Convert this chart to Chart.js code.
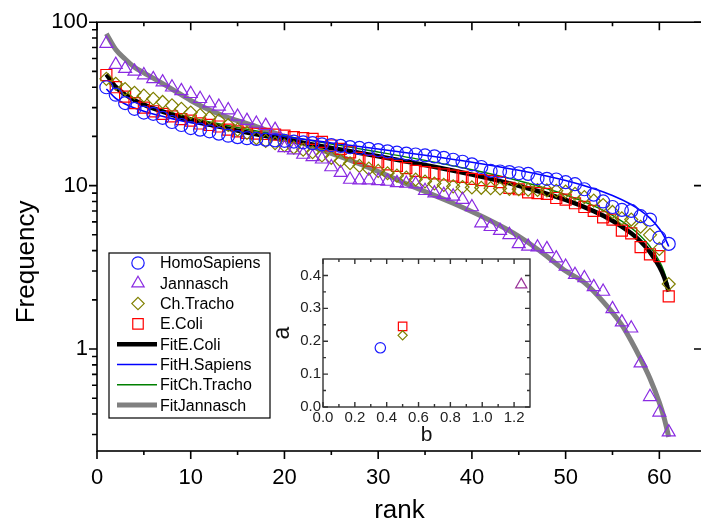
<!DOCTYPE html>
<html><head><meta charset="utf-8">
<script src="https://cdn.jsdelivr.net/npm/chart.js@4.4.0/dist/chart.umd.min.js"></script>
<style>
html,body{margin:0;padding:0;background:#fff;}
#wrap{position:relative;width:701px;height:522px;overflow:hidden;background:#fff;}
#main{position:absolute;left:0;top:0;}
#inset{position:absolute;left:262px;top:248px;}
</style></head><body>
<div id="wrap"><canvas id="main" width="711" height="522"></canvas><canvas id="inset" width="280" height="210"></canvas></div>
<script>
// ---------- data ----------
const ranks = [1,2,3,4,5,6,7,8,9,10,11,12,13,14,15,16,17,18,19,20,21,22,23,24,25,26,27,28,29,30,31,32,33,34,35,36,37,38,39,40,41,42,43,44,45,46,47,48,49,50,51,52,53,54,55,56,57,58,59,60,61];
const homoSapiens = [40,36,32,29.5,28,27.5,26,24.5,23.5,22.5,
  22,21.5,20.8,20.2,19.8,19.5,19.3,19.1,18.9,18.8,
  18.6,18.4,18.2,17.9,17.7,17.5,17.2,17,16.8,16.5,
  16.2,15.9,15.7,15.5,15.3,15.1,14.8,14.4,14,13.5,
  13,12.3,12.2,12.1,11.9,11.8,11.1,11,10.9,10.5,
  10.2,9.5,8.8,8,7.4,7.1,7,6.5,6.2,4.8,
  4.4];
const jannasch = [74,55,52,50,47.5,45,43,40,38,36.5,
  34,32,30.5,29,26.5,25,24,23.3,22,17,
  16.5,15.5,15,14.5,13,12,10.9,10.8,10.8,10.7,
  10.6,10.4,10.3,10.2,9.3,9,8.8,8.6,8.2,7.4,
  5.9,5.6,5.3,5,4.4,4.25,4.2,4.1,3.6,3.2,
  2.85,2.72,2.4,2.25,1.76,1.46,1.34,0.82,0.51,0.41,
  0.31];
const chTracho = [45,42,39,37,35.5,34,32.5,31,29.5,28,
  27,26,25,23.5,22,21,19.5,18.8,18.2,17.6,
  17.1,16.6,16,15.3,14.8,14.2,13.7,13.2,12.7,12.3,
  11.9,11.5,11.2,10.9,10.6,10.3,10.1,9.9,9.8,9.75,
  9.7,9.65,9.6,9.55,9.5,9.45,9.4,9.35,9.3,9.2,
  8.9,8.5,8.1,7.6,6.9,6.3,6.2,5.6,5,4.1,
  2.5];
const eColi = [47.5,40,35,32,30,28.5,27.5,26.5,25.5,25,
  24,23.5,23,22,21.5,21,20.8,20.7,20.5,20.2,
  19.8,19.5,19.3,18.5,17.6,16.8,16,14.8,14.2,13.9,
  13.5,13.2,12.8,12.3,12.1,11.9,11.7,11.5,11.3,11,
  10.8,10.7,10.5,9.7,9.5,9.1,9,8.9,8.4,8.2,
  7.8,7.4,7,6.4,6.2,5.3,5.1,4.2,3.8,3.7,
  2.1];
const fitRanks = [1,2,3,4,5,6,8,10,13,16,20,25,30,35,40,45,50,53,55,57,58,59,60,60.5,61];
const fitEColi = [48.0,40.2,36.1,33.35,31.3,29.67,27.15,25.2,22.96,21.15,19.13,17.0,15.12,13.37,11.68,9.98,8.17,6.98,6.10,5.11,4.55,3.92,3.19,2.76,2.25];
const fitHSapiens = [39.0,34.2,31.6,29.85,28.5,27.4,25.7,24.3,22.7,21.4,19.9,18.25,16.77,15.34,13.91,12.41,10.74,9.58,8.70,7.66,7.04,6.33,5.45,4.91,4.24];
const fitChTracho = [46.9,39.9,36.2,33.7,31.8,30.27,27.9,26.07,23.89,22.11,20.12,17.98,16.06,14.26,12.50,10.71,8.79,7.51,6.58,5.51,4.91,4.24,3.45,2.98,2.43];
const janFitRanks = [1,2,3,4,5,6,8,10,12,14,17,20,24,27,30,34,38,42,45,48,50,52,54,56,57,58,59,60,60.5,61];
const fitJannasch = [85,68,59.5,53,49,45.5,39,33.2,29,26.1,23,20,16.5,14.3,12.2,9.7,7.8,6.1,4.9,3.7,3.0,2.55,1.95,1.4,1.12,0.87,0.66,0.47,0.38,0.29];

// inset: fitted exponents
const insetNames = ['HomoSapiens','Jannasch','Ch.Tracho','E.Coli'];
const insetB = [0.36, 1.245, 0.50, 0.50];
const insetA = [0.18, 0.372, 0.218, 0.245];

// tick labels
const xMajorTicks = [0,10,20,30,40,50,60];
const xMinorTicks = [5,15,25,35,45,55];
const yMajorTicks = [1,10,100];
const yMinorTicks = [0.3,0.4,0.5,0.6,0.7,0.8,0.9,2,3,4,5,6,7,8,9,20,30,40,50,60,70,80,90];
const insetXTicks = [0,0.2,0.4,0.6,0.8,1.0,1.2];
const insetXMinor = [0.1,0.3,0.5,0.7,0.9,1.1];
const insetYTicks = [0,0.1,0.2,0.3,0.4];
const insetYMinor = [0.05,0.15,0.25,0.35];

// ---------- helpers ----------
const FONT = "'Liberation Sans', Arial, sans-serif";
Chart.defaults.font.family = FONT;
Chart.defaults.color = '#000';
const pts = (xs, ys) => xs.map((x, i) => ({x: x, y: ys[i]}));

function drawSym(ctx, style, x, y, r, color, lw) {
  ctx.save();
  ctx.strokeStyle = color; ctx.lineWidth = lw;
  ctx.beginPath();
  if (style === 'circle') { ctx.arc(x, y, r, 0, Math.PI * 2); }
  else if (style === 'triangle') {
    let a = 0;
    ctx.moveTo(x + Math.sin(a) * r, y - Math.cos(a) * r);
    a += 2 * Math.PI / 3; ctx.lineTo(x + Math.sin(a) * r, y - Math.cos(a) * r);
    a += 2 * Math.PI / 3; ctx.lineTo(x + Math.sin(a) * r, y - Math.cos(a) * r);
    ctx.closePath();
  } else if (style === 'rectRot') {
    ctx.moveTo(x, y - r); ctx.lineTo(x + r, y); ctx.lineTo(x, y + r); ctx.lineTo(x - r, y); ctx.closePath();
  } else if (style === 'rect') {
    const s = Math.SQRT1_2 * r; ctx.rect(x - s, y - s, 2 * s, 2 * s);
  }
  ctx.stroke();
  ctx.restore();
}

function frameTicks(chart, o) {
  const {ctx, chartArea: a, scales} = chart;
  const sx = scales.x, sy = scales.y;
  ctx.save();
  ctx.strokeStyle = o.color; ctx.lineWidth = o.lw;
  ctx.strokeRect(a.left, a.top, a.right - a.left, a.bottom - a.top);
  ctx.beginPath();
  const tick = (x1, y1, x2, y2) => { ctx.moveTo(x1, y1); ctx.lineTo(x2, y2); };
  o.xMaj.forEach(v => { const p = sx.getPixelForValue(v);
    tick(p, a.bottom, p, a.bottom + o.bMaj); tick(p, a.top, p, a.top + o.tMaj); });
  o.xMin.forEach(v => { const p = sx.getPixelForValue(v);
    tick(p, a.bottom, p, a.bottom + o.bMin); tick(p, a.top, p, a.top + o.tMin); });
  o.yMaj.forEach(v => { const p = sy.getPixelForValue(v);
    tick(a.left, p, a.left - o.lMaj, p); tick(a.right, p, a.right - o.rMaj, p); });
  o.yMin.forEach(v => { const p = sy.getPixelForValue(v);
    tick(a.left, p, a.left - o.lMin, p); if (o.rMin) tick(a.right, p, a.right - o.rMin, p); });
  ctx.stroke();
  ctx.restore();
}

const mainFrame = {
  id: 'mainFrame',
  afterDatasetsDraw(chart) {
    frameTicks(chart, {color: '#000', lw: 1.6, xMaj: xMajorTicks, xMin: xMinorTicks, yMaj: yMajorTicks, yMin: yMinorTicks,
      bMaj: 8, bMin: 4, tMaj: 8, tMin: 4, lMaj: 8, lMin: 5, rMaj: 8, rMin: 0});
  }
};

const boxLegend = {
  id: 'boxLegend',
  afterDraw(chart) {
    const ctx = chart.ctx;
    const bx = 109, by = 253, bw = 161, bh = 165;
    ctx.save();
    ctx.fillStyle = '#fff'; ctx.fillRect(bx, by, bw, bh);
    ctx.strokeStyle = '#000'; ctx.lineWidth = 1.2; ctx.strokeRect(bx, by, bw, bh);
    ctx.font = '16px ' + FONT; ctx.textBaseline = 'middle'; ctx.textAlign = 'left';
    chart.data.datasets.forEach((ds, i) => {
      const y = by + 10 + i * 20.3;
      if (ds.showLine) {
        ctx.save(); ctx.strokeStyle = ds.borderColor; ctx.lineWidth = ds.borderWidth; ctx.lineCap = 'butt';
        ctx.beginPath(); ctx.moveTo(117, y); ctx.lineTo(157, y); ctx.stroke(); ctx.restore();
      } else {
        drawSym(ctx, ds.pointStyle, 138, y, ds.legendRadius, ds.borderColor, ds.borderWidth);
      }
      ctx.fillStyle = '#000';
      ctx.fillText(ds.label, 160, y + 1);
    });
    ctx.restore();
  }
};

const markerDs = (label, ys, style, color, r) => ({
  label: label, data: pts(ranks, ys), pointStyle: style, pointRadius: r, pointHoverRadius: r,
  borderColor: color, backgroundColor: 'rgba(0,0,0,0)', borderWidth: 1.2, showLine: false, legendRadius: r * 0.95
});
const fitDs = (label, xs, ys, color, w) => ({
  label: label, data: pts(xs, ys), showLine: true, pointRadius: 0, borderColor: color, borderWidth: w,
  backgroundColor: color, cubicInterpolationMode: 'monotone', fill: false
});

new Chart(document.getElementById('main'), {
  type: 'scatter',
  data: {datasets: [
    markerDs('HomoSapiens', homoSapiens, 'circle', '#1a1aff', 6.5),
    markerDs('Jannasch', jannasch, 'triangle', '#8a2be2', 7.5),
    markerDs('Ch.Tracho', chTracho, 'rectRot', '#808000', 6.5),
    markerDs('E.Coli', eColi, 'rect', '#ff0000', 7.8),
    fitDs('FitE.Coli', fitRanks, fitEColi, '#000000', 4.5),
    fitDs('FitH.Sapiens', fitRanks, fitHSapiens, '#0000ff', 1.6),
    fitDs('FitCh.Tracho', fitRanks, fitChTracho, '#008000', 1.4),
    fitDs('FitJannasch', janFitRanks, fitJannasch, '#808080', 5)
  ]},
  options: {
    responsive: false, animation: false, devicePixelRatio: 1,
    layout: {padding: {top: 22, right: 2, left: 0, bottom: 0}},
    plugins: {legend: {display: false}, tooltip: {enabled: false}},
    scales: {
      x: {type: 'linear', position: 'bottom', min: 0, max: 64.55,
        afterFit: s => { s.height = 71; },
        afterBuildTicks: s => { s.ticks = xMajorTicks.map(v => ({value: v})); },
        grid: {display: false, drawTicks: false}, border: {display: false},
        ticks: {padding: 14, font: {size: 22}, color: '#000', maxRotation: 0, autoSkip: false, callback: v => String(v)},
        title: {display: true, text: 'rank', font: {size: 26, lineHeight: 1}, color: '#000', padding: {top: 0, bottom: -2}}
      },
      y: {type: 'logarithmic', position: 'left', min: 0.2377, max: 100,
        afterFit: s => { s.width = 97; },
        afterBuildTicks: s => { s.ticks = yMajorTicks.map(v => ({value: v})); },
        grid: {display: false, drawTicks: false}, border: {display: false},
        ticks: {padding: 9, font: {size: 22}, color: '#000', autoSkip: false, callback: v => String(v)},
        title: {display: true, text: 'Frequency       ', font: {size: 26, lineHeight: 1}, color: '#000', padding: {top: 14, bottom: 0}}
      }
    }
  },
  plugins: [mainFrame, boxLegend]
});

// ---------- inset ----------
const insetStyles = [
  {style: 'circle', color: '#1a1aff', r: 5.2},
  {style: 'triangle', color: '#993399', r: 6.5},
  {style: 'rectRot', color: '#808000', r: 4.6},
  {style: 'rect', color: '#ff0000', r: 6}
];
const insetFrame = {
  id: 'insetFrame',
  afterDatasetsDraw(chart) {
    frameTicks(chart, {color: '#333', lw: 1.4, xMaj: insetXTicks, xMin: insetXMinor, yMaj: insetYTicks, yMin: insetYMinor,
      bMaj: -5, bMin: -3, tMaj: 5, tMin: 3, lMaj: -5, lMin: -3, rMaj: 5, rMin: 3});
  }
};
new Chart(document.getElementById('inset'), {
  type: 'scatter',
  data: {datasets: insetNames.map((n, i) => ({
    label: n, data: [{x: insetB[i], y: insetA[i]}],
    pointStyle: insetStyles[i].style, pointRadius: insetStyles[i].r, pointHoverRadius: insetStyles[i].r,
    borderColor: insetStyles[i].color, backgroundColor: 'rgba(0,0,0,0)', borderWidth: 1.2
  }))},
  options: {
    responsive: false, animation: false, devicePixelRatio: 1,
    layout: {padding: {top: 10, right: 12, left: 0, bottom: 0}},
    plugins: {legend: {display: false}, tooltip: {enabled: false}},
    scales: {
      x: {type: 'linear', min: 0, max: 1.3,
        afterFit: s => { s.height = 51; },
        afterBuildTicks: s => { s.ticks = insetXTicks.map(v => ({value: v})); },
        grid: {display: false, drawTicks: false}, border: {display: false},
        ticks: {padding: 2, font: {size: 15}, color: '#222', maxRotation: 0, autoSkip: false, callback: v => Number(v).toFixed(1)},
        title: {display: true, text: 'b', font: {size: 21, lineHeight: 1}, color: '#111', padding: {top: 0, bottom: 12}}
      },
      y: {type: 'linear', min: 0, max: 0.45,
        afterFit: s => { s.width = 61; },
        afterBuildTicks: s => { s.ticks = insetYTicks.map(v => ({value: v})); },
        grid: {display: false, drawTicks: false}, border: {display: false},
        ticks: {padding: 2, font: {size: 15}, color: '#222', autoSkip: false, callback: v => Number(v).toFixed(1)},
        title: {display: true, text: 'a', font: {size: 23, lineHeight: 1}, color: '#111', padding: {top: 9, bottom: 0}}
      }
    }
  },
  plugins: [insetFrame]
});
</script>
</body></html>
